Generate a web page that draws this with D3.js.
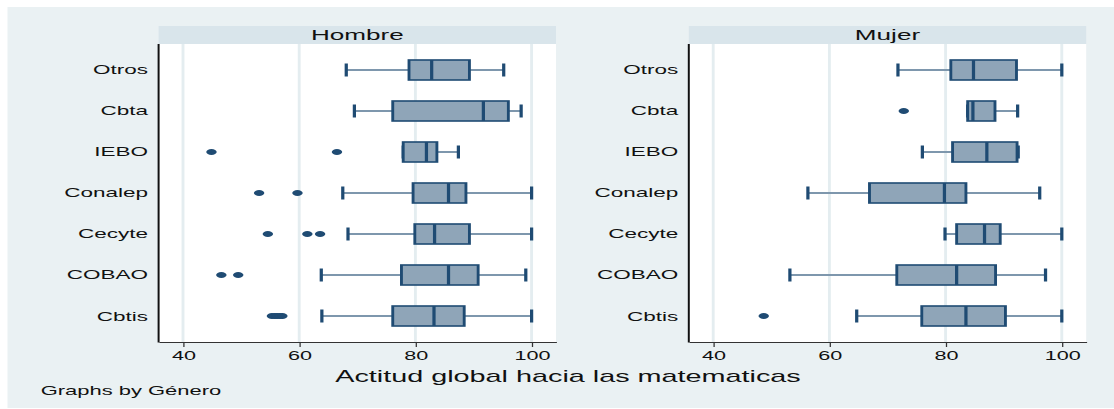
<!DOCTYPE html>
<html>
<head>
<meta charset="utf-8">
<script src="https://cdn.jsdelivr.net/npm/d3@7"></script>
<style>
  body { margin: 0; background: #fff; }
  text { font-family: "Liberation Sans", Arial, sans-serif; fill: #111; }
</style>
</head>
<body>
<svg></svg>
<script>
const groups = ["Otros", "Cbta", "IEBO", "Conalep", "Cecyte", "COBAO", "Cbtis"];
const panels = ["Hombre", "Mujer"];
const xTicks = [40, 60, 80, 100];

// [lower whisker, q1, median, q3, upper whisker]
const hombreBoxes = [
    [68.1, 78.9, 82.8, 89.3, 95.2],
    [69.5, 76.1, 91.7, 96.0, 98.2],
    [77.9, 77.9, 81.9, 83.7, 87.4],
    [67.5, 79.6, 85.7, 88.7, 100],
    [68.4, 79.9, 83.3, 89.3, 100],
    [63.8, 77.6, 85.7, 90.8, 99.0],
    [63.9, 76.1, 83.2, 88.4, 100]
];
const hombreOutliers = [
    [],
    [],
    [44.9, 66.5],
    [53.1, 59.7],
    [54.6, 61.4, 63.6],
    [46.6, 49.5],
    [55.3, 55.8, 56.2, 56.7, 57.1]
];

const mujerBoxes = [
    [71.8, 80.9, 84.8, 92.2, 100],
    [83.8, 83.8, 84.7, 88.5, 92.4],
    [76.0, 81.2, 87.1, 92.3, 92.5],
    [56.3, 66.9, 79.8, 83.5, 96.2],
    [79.9, 81.9, 86.7, 89.4, 100],
    [53.2, 71.6, 81.9, 88.6, 97.2],
    [64.7, 75.9, 83.5, 90.3, 100]
];
const mujerOutliers = [
    [],
    [72.8],
    [],
    [],
    [],
    [],
    [48.7]
];

const boxes = [hombreBoxes, mujerBoxes];
const outliers = [hombreOutliers, mujerOutliers];

const width = 1114;
const height = 409;
const S = 1.8; // the whole graph is stretched horizontally

const navy = "#1f4b73";
const boxFill = "#8fa5b8";
const whisker = "#7e97ad";
const grid = "#e4edf0";

const svg = d3.select("svg")
    .attr("width", width)
    .attr("height", height);

svg.append("rect")
    .attr("x", 7.5).attr("y", 7)
    .attr("width", width - 7.5).attr("height", 401)
    .attr("fill", "#eaf1f3");

const g = svg.append("g").attr("transform", `scale(${S},1)`);

const panelLeft = [158.6 / S, 688.8 / S];
const panelW = 397.4 / S;
const plotTop = 44, plotBottom = 342;

const y = d3.scalePoint()
    .domain(groups)
    .range([plotTop, plotBottom])
    .padding(0.634);

panels.forEach((name, p) => {
    const x0 = panelLeft[p];
    const x = d3.scaleLinear()
        .domain([35.8, 104.2])
        .range([x0, x0 + panelW]);

    const pg = g.append("g");

    // header strip
    pg.append("rect")
        .attr("x", x0).attr("y", 26)
        .attr("width", panelW).attr("height", plotTop - 26)
        .attr("fill", "#d9e5eb");
    pg.append("text")
        .attr("x", x0 + panelW / 2).attr("y", 40)
        .attr("text-anchor", "middle")
        .style("font-size", "14.5px")
        .text(name);

    // plot region
    pg.append("rect")
        .attr("x", x0).attr("y", plotTop)
        .attr("width", panelW).attr("height", plotBottom - plotTop)
        .attr("fill", "#fff");

    pg.selectAll(".grid")
        .data(xTicks)
        .enter().append("line")
        .attr("x1", d => x(d)).attr("x2", d => x(d))
        .attr("y1", plotTop).attr("y2", plotBottom)
        .attr("stroke", grid)
        .attr("stroke-width", 1.6);

    // x axis
    const axis = pg.append("g")
        .attr("transform", `translate(0,${plotBottom})`)
        .call(d3.axisBottom(x).tickValues(xTicks).tickSize(5).tickSizeOuter(0).tickPadding(4));
    axis.select(".domain").attr("stroke", "#333");
    axis.selectAll(".tick line").attr("stroke", "#333").attr("stroke-width", 0.7);
    axis.selectAll(".tick text")
        .style("font-size", "12px")
        .style("font-family", "'Liberation Sans', Arial, sans-serif")
        .attr("fill", "#111");

    // y axis line and labels
    pg.append("line")
        .attr("x1", x0).attr("x2", x0)
        .attr("y1", plotTop).attr("y2", plotBottom + 0.5)
        .attr("stroke", "#111")
        .attr("stroke-width", 1.1);

    pg.selectAll(".lab")
        .data(groups)
        .enter().append("text")
        .attr("x", x0 - 10.5 / S)
        .attr("y", d => y(d))
        .attr("dy", "0.36em")
        .attr("text-anchor", "end")
        .style("font-size", "12.5px")
        .text(d => d);

    // boxes
    const bx = pg.selectAll(".box")
        .data(boxes[p])
        .enter().append("g")
        .attr("transform", (d, i) => `translate(0,${y(groups[i])})`);

    bx.append("line")
        .attr("x1", d => x(d[0])).attr("x2", d => x(d[1]))
        .attr("stroke", whisker).attr("stroke-width", 2);
    bx.append("line")
        .attr("x1", d => x(d[3])).attr("x2", d => x(d[4]))
        .attr("stroke", whisker).attr("stroke-width", 2);

    [0, 4].forEach(k => {
        bx.append("line")
            .attr("x1", d => x(d[k])).attr("x2", d => x(d[k]))
            .attr("y1", -6.5).attr("y2", 6.5)
            .attr("stroke", navy).attr("stroke-width", 1.8);
    });

    bx.append("rect")
        .attr("x", d => x(d[1]))
        .attr("width", d => x(d[3]) - x(d[1]))
        .attr("y", -10).attr("height", 20)
        .attr("fill", boxFill)
        .attr("stroke", navy)
        .attr("stroke-width", 1.6);

    bx.append("line")
        .attr("x1", d => x(d[2])).attr("x2", d => x(d[2]))
        .attr("y1", -10).attr("y2", 10)
        .attr("stroke", navy).attr("stroke-width", 1.8);

    // outside values
    outliers[p].forEach((vals, i) => {
        pg.selectAll(null)
            .data(vals)
            .enter().append("circle")
            .attr("cx", d => x(d))
            .attr("cy", y(groups[i]))
            .attr("r", 2.9)
            .attr("fill", navy);
    });
});

g.append("text")
    .attr("x", 568 / S).attr("y", 382)
    .attr("text-anchor", "middle")
    .style("font-size", "16px")
    .text("Actitud global hacia las matematicas");

g.append("text")
    .attr("x", 40.7 / S).attr("y", 395)
    .style("font-size", "12.2px")
    .text("Graphs by Género");
</script>
</body>
</html>
